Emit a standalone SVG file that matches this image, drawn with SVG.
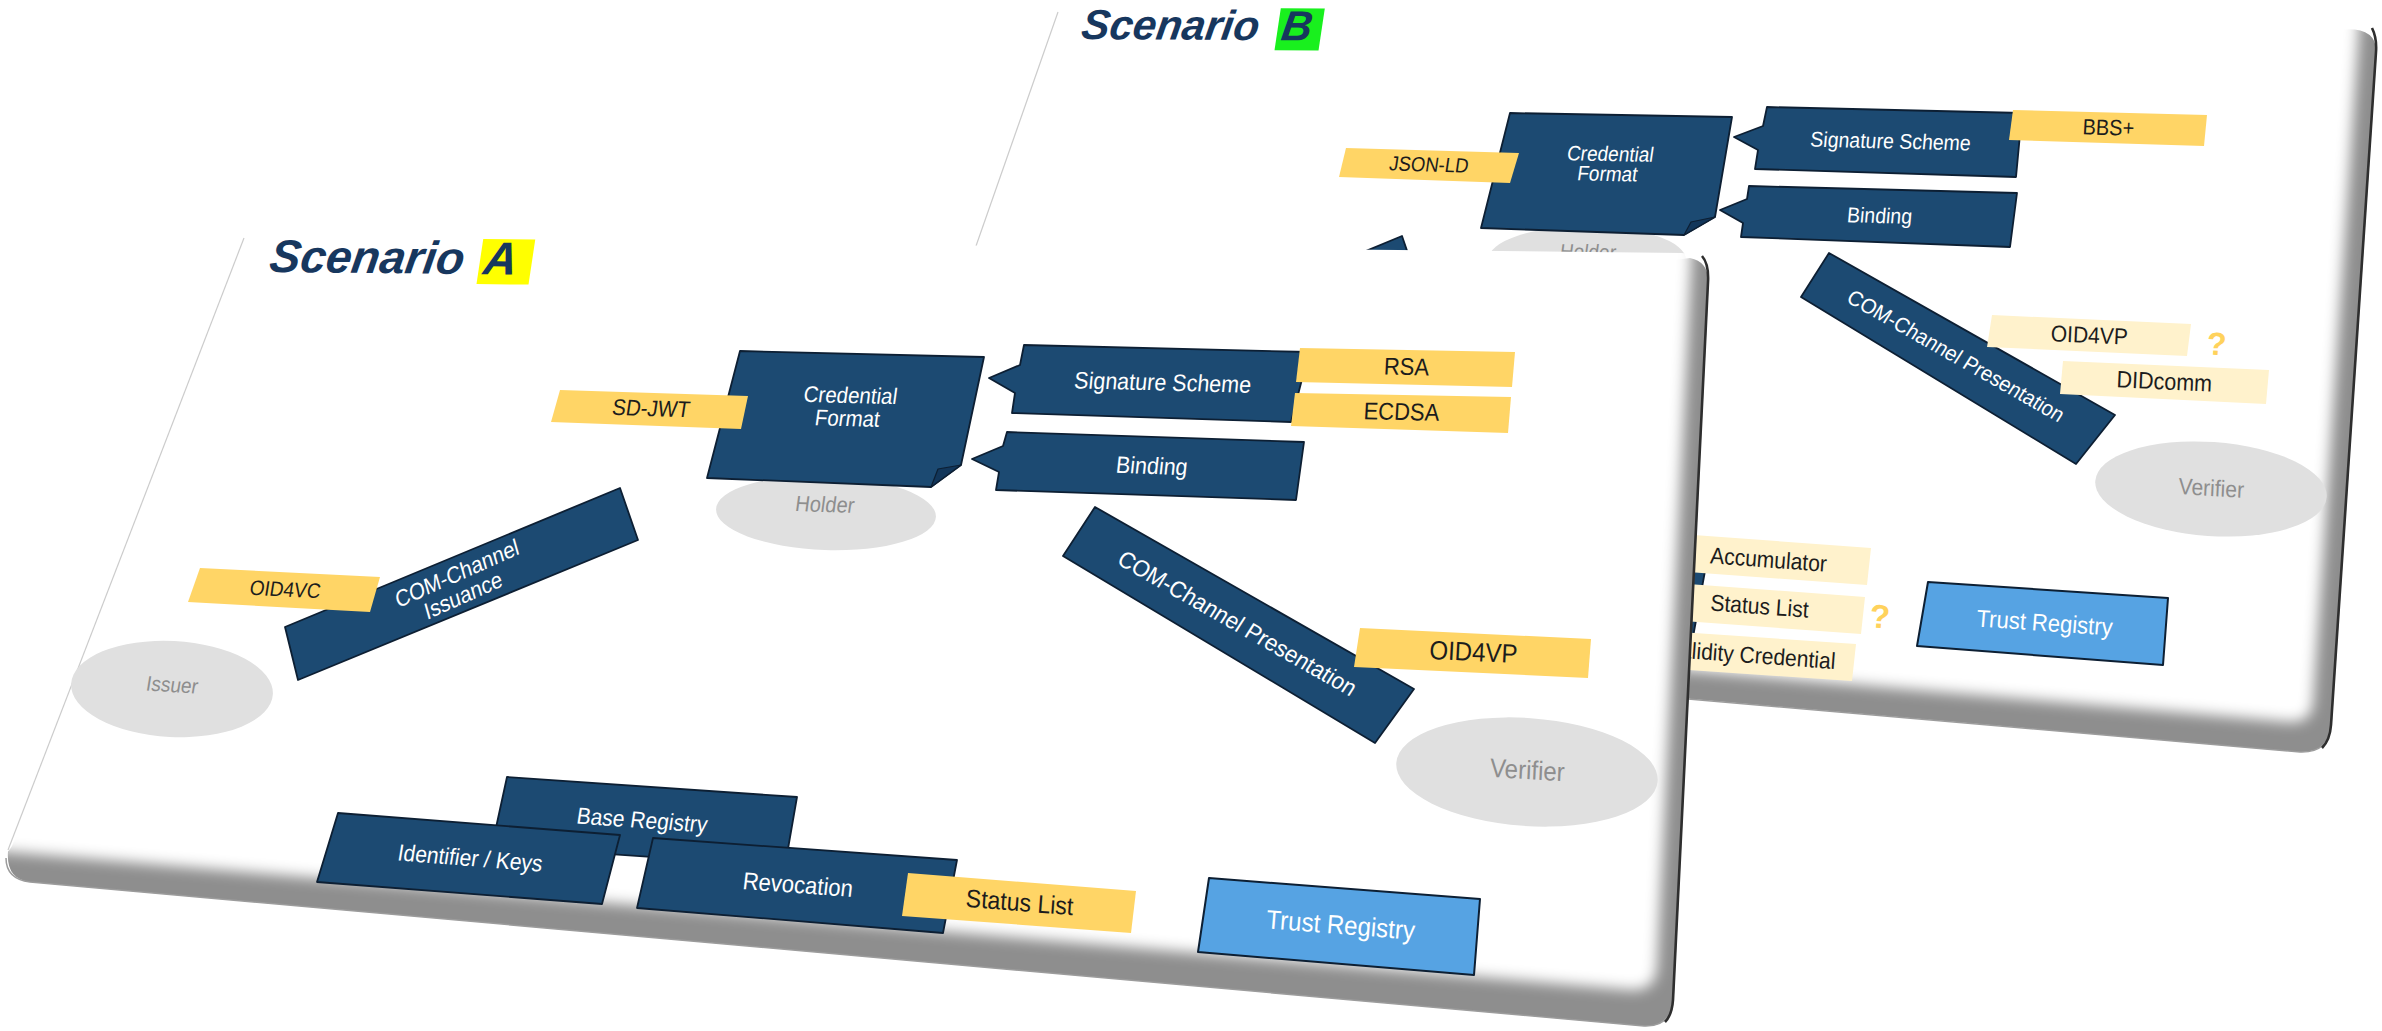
<svg xmlns="http://www.w3.org/2000/svg" width="2382" height="1031" viewBox="0 0 2382 1031">
<defs>
<style>
text{font-family:"Liberation Sans",Arial,sans-serif;text-anchor:middle}
.box{fill:#1c4a72;stroke:#0d1f33;stroke-width:1.8;stroke-linejoin:round}
.fold{fill:#12365a;stroke:#0d1f33;stroke-width:1.2;stroke-linejoin:round}
.tag{fill:#ffd566}
.ltag{fill:#fff2cc}
.trust{fill:#56a3e3;stroke:#0d1f33;stroke-width:2;stroke-linejoin:round}
.ell{fill:#e0e0e0}
.wt{fill:#ffffff}
.dk{fill:#1c1c1c}
.gr{fill:#8e8e8e}
.q{fill:#ffd25c;font-weight:bold}
.title{fill:#17375e;font-weight:bold;font-style:italic;text-anchor:start}
.body{fill:#8e8e8e}
.face{fill:#ffffff}
.edge{fill:none;stroke:#cccccc;stroke-width:1.2}
.low{fill:none;stroke:#9c9c9c;stroke-width:1.5}
.rim{fill:none;stroke:#2e2e2e;stroke-width:2.6}
</style>
<filter id="soft" x="-0.1" y="-0.1" width="1.2" height="1.2"><feGaussianBlur stdDeviation="7"/></filter>
<clipPath id="clipB"><path d="M1058,12 L2348,22 Q2377,23 2376,52 L2331,725 Q2329,753 2300,752 L845,626 Z"/></clipPath>
<clipPath id="clipA"><path d="M244,238 L1682,253 Q1709,254 1708,282 L1673,1000 Q1671,1027 1644,1026 L30,882 Q6,879 6,858 Z"/></clipPath>
</defs>

<!-- ================= SLIDE B (back) ================= -->
<g id="slideB">
  <path class="body" d="M1066,22 L2330,31 Q2377,23 2376,52 L2331,725 Q2329,753 2300,752 L855,626 Z"/>
  <path class="face" filter="url(#soft)" clip-path="url(#clipB)" d="M600,-100 L2366,-100 L2358,45 L2313,703 Q2311,723 2290,722 L820,596 L600,570 Z"/>
  <path class="low" d="M2376,52 L2331,725 Q2329,753 2300,752 L845,626"/>
  <path class="rim" d="M2372,28 Q2377,38 2376,52 L2331,725 Q2330,740 2322,748"/>
  <path class="edge" d="M1058,12 L976,246"/>
</g>

<g id="titleB" transform="matrix(1,0.006,-0.15,1,1080,39)">
  <rect x="196" y="-32" width="44" height="42" fill="#19f01e"/>
  <text class="title" x="0" y="0" font-size="42">Scenario</text>
  <text class="title" x="200" y="0" font-size="42">B</text>
</g>

<g id="B-com-issuance"><path class="box" d="M1100,361 L1402,236 L1418,283 L1112,409 Z"/></g>
<g id="B-revocation"><path class="box" d="M1432,551 L1705,571 L1693,637 L1417,614 Z"/></g>

<g id="B-holder">
  <ellipse class="ell" cx="1587" cy="260" rx="99" ry="34"/>
  <text class="gr" font-size="19" transform="matrix(1,0.02,-0.15,1.1,1587,259)">Holder</text>
</g>

<g id="B-credential-format">
  <path class="box" d="M1510,113 L1732,117 L1715,217 L1684,235 L1481,228 Z"/>
  <path class="fold" d="M1715,217 L1691,222 L1684,235 Z"/>
  <g transform="matrix(1,0.018,-0.16,1.1,1608,171)">
    <text class="wt" font-size="19" y="-9">Credential</text>
    <text class="wt" font-size="19" y="9">Format</text>
  </g>
</g>

<g id="B-json-ld">
  <path class="tag" d="M1346,148 L1519,153 L1510,183 L1339,177 Z"/>
  <text class="dk" font-size="18.5" transform="matrix(1,0.03,-0.16,1.1,1428,171.5)">JSON-LD</text>
</g>

<g id="B-signature-scheme">
  <path class="box" d="M1767,107 L2022,113 L2016,177 L1755,169 L1758,150 L1734,137 L1763,126 Z"/>
  <text class="wt" font-size="19.5" transform="matrix(1,0.024,-0.1,1.1,1890,148.5)">Signature Scheme</text>
</g>
<g id="B-bbs">
  <path class="tag" d="M2013,110 L2207,115 L2204,146 L2009,140 Z"/>
  <text class="dk" font-size="20" transform="matrix(1,0.026,-0.06,1.1,2108,135)">BBS+</text>
</g>
<g id="B-binding">
  <path class="box" d="M1749,186 L2017,193 L2010,247 L1741,237 L1743,223 L1720,210 L1747,199 Z"/>
  <text class="wt" font-size="19.5" transform="matrix(1,0.026,-0.1,1.1,1879,223)">Binding</text>
</g>

<g id="B-com-presentation">
  <path class="box" d="M1829,253 L2115,415 L2076,464 L1801,297 Z"/>
  <text class="wt" font-size="20" transform="matrix(0.869,0.495,-0.58,0.9,1952,362)">COM-Channel Presentation</text>
</g>
<g id="B-oid4vp">
  <path class="ltag" d="M1992,315 L2191,324 L2187,356 L1987,347 Z"/>
  <text class="dk" font-size="21" transform="matrix(1,0.045,-0.05,1.1,2089,343)">OID4VP</text>
  <text class="q" font-size="32" transform="matrix(1,0.045,-0.06,1,2216,355)">?</text>
</g>
<g id="B-didcomm">
  <path class="ltag" d="M2063,361 L2269,370 L2266,404 L2060,394 Z"/>
  <text class="dk" font-size="21.5" transform="matrix(1,0.045,-0.05,1.1,2164,389.5)">DIDcomm</text>
</g>
<g id="B-verifier">
  <ellipse class="ell" cx="2211" cy="489" rx="116" ry="47" transform="rotate(4 2211 489)"/>
  <text class="gr" font-size="21" transform="matrix(1,0.06,-0.05,1.1,2211,496)">Verifier</text>
</g>
<g id="B-accumulator">
  <path class="ltag" d="M1666,533 L1871,548 L1867,585 L1661,570 Z"/>
  <text class="dk" font-size="21" transform="matrix(1,0.073,-0.08,1.1,1768,567.5)">Accumulator</text>
</g>
<g id="B-status-list">
  <path class="ltag" d="M1661,582 L1865,597 L1861,634 L1656,619 Z"/>
  <text class="dk" font-size="21" transform="matrix(1,0.073,-0.08,1.1,1759,614)">Status List</text>
  <text class="q" font-size="33" transform="matrix(1,0.07,-0.07,1,1879,628)">?</text>
</g>
<g id="B-validity-credential">
  <path class="ltag" d="M1650,630 L1856,644 L1852,681 L1645,667 Z"/>
  <text class="dk" font-size="21" transform="matrix(1,0.073,-0.08,1.1,1751,663)">Validity Credential</text>
</g>
<g id="B-trust-registry">
  <path class="trust" d="M1928,582 L2168,598 L2163,665 L1917,646 Z"/>
  <text class="wt" font-size="22" transform="matrix(1,0.067,-0.09,1.1,2044,631)">Trust Registry</text>
</g>

<!-- ================= SLIDE A (front) ================= -->
<g id="slideA">
  <path class="body" d="M254,248 L1660,262 L1690,258 Q1709,262 1708,282 L1673,1000 Q1671,1027 1644,1026 L30,882 Q6,879 8,852 L12,846 Z"/>
  <path class="face" filter="url(#soft)" clip-path="url(#clipA)" d="M-100,-100 L1702,-100 L1691,268 L1657,968 Q1655,991 1631,990 L10,852 L-100,842 Z"/>
  <path class="low" d="M1708,282 L1673,1000 Q1671,1027 1644,1026 L30,882 Q6,879 6,858"/>
  <path class="rim" d="M1702,256 Q1709,264 1708,282 L1673,1000 Q1672,1015 1665,1022"/>
  <path class="edge" d="M244,238 L8,850"/>
</g>

<g id="titleA" transform="matrix(1,0.01,-0.15,1,268,272)">
  <rect x="210" y="-35" width="52" height="45" fill="#ffff00"/>
  <text class="title" x="0" y="0" font-size="46">Scenario</text>
  <text class="title" x="214" y="0" font-size="46">A</text>
</g>

<g id="A-holder">
  <ellipse class="ell" cx="826" cy="513" rx="110" ry="37" transform="rotate(2 826 513)"/>
  <text class="gr" font-size="20" transform="matrix(1,0.03,-0.15,1.1,824,512)">Holder</text>
</g>
<g id="A-credential-format">
  <path class="box" d="M740,351 L984,357 L961,465 L931,487 L707,478 Z"/>
  <path class="fold" d="M961,465 L938,469 L931,487 Z"/>
  <g transform="matrix(1,0.025,-0.15,1.1,848,414)">
    <text class="wt" font-size="20.5" y="-10">Credential</text>
    <text class="wt" font-size="20.5" y="11">Format</text>
  </g>
</g>
<g id="A-sd-jwt">
  <path class="tag" d="M560,390 L748,396 L741,429 L551,422 Z"/>
  <text class="dk" font-size="20.5" transform="matrix(1,0.032,-0.17,1.1,650,416)">SD-JWT</text>
</g>
<g id="A-signature-scheme">
  <path class="box" d="M1024,345 L1309,352 L1291,422 L1012,413 L1015,393 L989,378 L1020,365 Z"/>
  <text class="wt" font-size="21.5" transform="matrix(1,0.025,-0.11,1.1,1162,390.5)">Signature Scheme</text>
</g>
<g id="A-rsa">
  <path class="tag" d="M1300,348 L1515,352 L1512,387 L1296,382 Z"/>
  <text class="dk" font-size="22" transform="matrix(1,0.019,-0.06,1.1,1406,375)">RSA</text>
</g>
<g id="A-ecdsa">
  <path class="tag" d="M1295,393 L1511,397 L1508,433 L1291,426 Z"/>
  <text class="dk" font-size="22" transform="matrix(1,0.02,-0.06,1.1,1401,420)">ECDSA</text>
</g>
<g id="A-binding">
  <path class="box" d="M1007,432 L1304,442 L1296,500 L996,490 L999,472 L972,459 L1003,446 Z"/>
  <text class="wt" font-size="21.5" transform="matrix(1,0.033,-0.12,1.1,1151,474)">Binding</text>
</g>

<g id="A-issuer">
  <ellipse class="ell" cx="172" cy="689" rx="101" ry="48" transform="rotate(3 172 689)"/>
  <text class="gr" font-size="19" transform="matrix(1,0.06,-0.18,1.1,171,692)">Issuer</text>
</g>
<g id="A-com-issuance">
  <path class="box" d="M285,627 L620,488 L638,540 L298,680 Z"/>
  <g transform="matrix(0.913,-0.407,0.3,1.05,460,584)">
    <text class="wt" font-size="21" y="-3">COM-Channel</text>
    <text class="wt" font-size="21" y="18">Issuance</text>
  </g>
</g>
<g id="A-oid4vc">
  <path class="tag" d="M200,568 L380,577 L370,612 L188,602 Z"/>
  <text class="dk" font-size="19" transform="matrix(1,0.05,-0.18,1.1,284,596.5)">OID4VC</text>
</g>

<g id="A-verifier">
  <ellipse class="ell" cx="1527" cy="772" rx="131" ry="54" transform="rotate(4 1527 772)"/>
  <text class="gr" font-size="24" transform="matrix(1,0.06,-0.05,1.1,1527,779)">Verifier</text>
</g>
<g id="A-com-presentation">
  <path class="box" d="M1095,507 L1414,689 L1375,743 L1063,556 Z"/>
  <text class="wt" font-size="22" transform="matrix(0.869,0.495,-0.58,0.9,1233,630)">COM-Channel Presentation</text>
</g>
<g id="A-oid4vp">
  <path class="tag" d="M1360,628 L1591,639 L1588,678 L1354,667 Z"/>
  <text class="dk" font-size="24" transform="matrix(1,0.048,-0.06,1.1,1473,661)">OID4VP</text>
</g>

<g id="A-base-registry">
  <path class="box" d="M507,777 L797,797 L785,866 L492,846 Z"/>
  <text class="wt" font-size="21" transform="matrix(1,0.069,-0.17,1.1,641,828)">Base Registry</text>
</g>
<g id="A-identifier-keys">
  <path class="box" d="M338,813 L620,835 L602,904 L317,882 Z"/>
  <text class="wt" font-size="21" transform="matrix(1,0.078,-0.18,1.1,469,866)">Identifier / Keys</text>
</g>
<g id="A-revocation">
  <path class="box" d="M653,838 L957,860 L943,933 L637,908 Z"/>
  <text class="wt" font-size="22" transform="matrix(1,0.072,-0.13,1.1,797,893)">Revocation</text>
</g>
<g id="A-status-list">
  <path class="tag" d="M908,873 L1136,891 L1131,933 L902,916 Z"/>
  <text class="dk" font-size="23" transform="matrix(1,0.079,-0.08,1.1,1019,911)">Status List</text>
</g>
<g id="A-trust-registry">
  <path class="trust" d="M1209,878 L1480,899 L1474,975 L1198,952 Z"/>
  <text class="wt" font-size="24" transform="matrix(1,0.077,-0.09,1.1,1340,934)">Trust Registry</text>
</g>

<g id="connectors"></g>
</svg>
